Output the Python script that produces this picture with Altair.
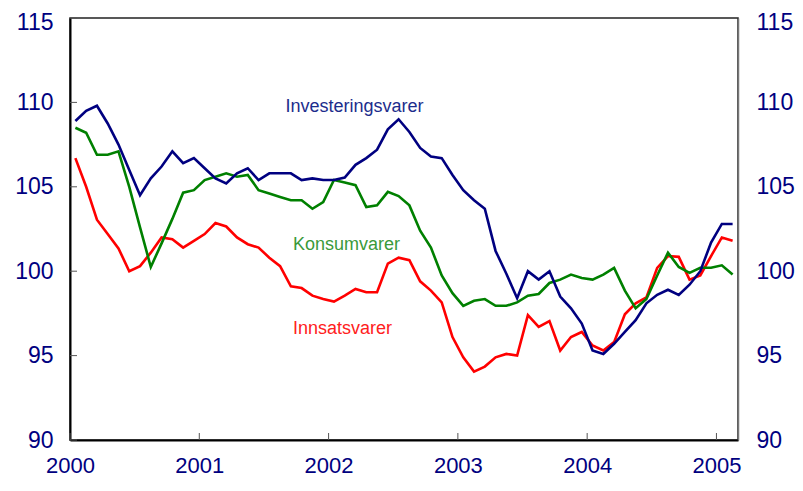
import altair as alt
import pandas as pd

# Monthly observations, Jan 2000 - Feb 2005
months = [f"{y}-{m:02d}" for y in range(2000, 2006) for m in range(1, 13)][:62]

investeringsvarer = [
    108.9, 109.5, 109.8, 108.75, 107.5, 106.0, 104.5, 105.5, 106.2, 107.1, 106.4, 106.7,
    106.1, 105.5, 105.2, 105.8, 106.1, 105.4, 105.8, 105.8, 105.8, 105.4, 105.5, 105.4,
    105.4, 105.55, 106.3, 106.7, 107.2, 108.4, 109.0, 108.25, 107.3, 106.8, 106.7, 105.7,
    104.8, 104.2, 103.7, 101.2, 99.85, 98.4, 100.0, 99.5, 100.0, 98.5, 97.8, 96.9,
    95.3, 95.1, 95.7, 96.4, 97.1, 98.1, 98.6, 98.9, 98.6, 99.2, 100.0, 101.7,
    102.8, 102.8,
]
konsumvarer = [
    108.5, 108.2, 106.9, 106.9, 107.1, 105.0, 102.6, 100.25, 101.65, 103.1, 104.65, 104.8,
    105.4, 105.6, 105.8, 105.6, 105.7, 104.8, 104.6, 104.4, 104.2, 104.2, 103.7, 104.1,
    105.4, 105.25, 105.1, 103.8, 103.9, 104.7, 104.45, 103.9, 102.4, 101.4, 99.75, 98.7,
    97.95, 98.25, 98.35, 97.95, 97.95, 98.15, 98.55, 98.65, 99.3, 99.5, 99.8, 99.6,
    99.5, 99.8, 100.2, 98.85, 97.8, 98.35, 99.75, 101.1, 100.25, 99.9, 100.2, 100.2,
    100.35, 99.8,
]
innsatsvarer = [
    106.7, 105.0, 103.05, 102.2, 101.35, 100.0, 100.3, 101.1, 102.0, 101.9, 101.4, 101.8,
    102.2, 102.85, 102.65, 102.0, 101.6, 101.4, 100.8, 100.3, 99.1, 99.0, 98.55, 98.35,
    98.2, 98.55, 98.95, 98.75, 98.75, 100.45, 100.8, 100.65, 99.4, 98.85, 98.15, 96.1,
    94.9, 94.05, 94.35, 94.9, 95.1, 95.0, 97.4, 96.7, 97.05, 95.3, 96.1, 96.4,
    95.6, 95.3, 95.8, 97.45, 98.1, 98.45, 100.2, 100.9, 100.85, 99.5, 99.75, 100.9,
    102.0, 101.8,
]

series_names = ["Innsatsvarer", "Konsumvarer", "Investeringsvarer"]
series_values = [innsatsvarer, konsumvarer, investeringsvarer]
series_colors = ["#ff0000", "#008000", "#000080"]

label_texts = ["Investeringsvarer", "Konsumvarer", "Innsatsvarer"]
label_month = [19.5, 20.2, 20.2]
label_value = [109.7, 101.55, 96.6]
label_colors = ["#1c2d8c", "#3a9a3a", "#ff2020"]

year_ticks = [2000, 2001, 2002, 2003, 2004, 2005]
y_ticks = [90, 95, 100, 105, 110, 115]

rows = []
for name, vals in zip(series_names, series_values):
    for i, (m, v) in enumerate(zip(months, vals)):
        rows.append({"series": name, "month": m, "t": i, "value": v})
df = pd.DataFrame(rows)

df_labels = pd.DataFrame({"label": label_texts, "t": label_month,
                          "value": label_value, "col": label_colors})
df_yt = pd.DataFrame({"value": y_ticks})
df_xt = pd.DataFrame({"t": [(y - 2000) * 12 - 0.5 for y in year_ticks]})

FONT = "Liberation Sans"
x_scale = alt.Scale(domain=[-0.5, 61.5], nice=False, zero=False)
y_scale = alt.Scale(domain=[90, 115], nice=False, zero=False)

top_label_offset = {"condition": {"test": "datum.value == 115", "value": 4}, "value": 0}

x_axis = alt.Axis(
    values=[(y - 2000) * 12 - 0.5 for y in year_ticks],
    labelExpr="'' + round((datum.value + 0.5) / 12 + 2000)",
    title=None, grid=False, ticks=False, tickSize=0,
    domainColor="#000000", domainWidth=2,
    labelFont=FONT, labelFontSize=22, labelColor="#000080",
    labelPadding=15, labelFlush=False, labelOverlap=False,
)
y_axis_left = alt.Axis(
    values=y_ticks, orient="left", title=None, grid=False, ticks=False, tickSize=0,
    domainColor="#000000", domainWidth=2,
    labelFont=FONT, labelFontSize=23, labelColor="#000080", labelPadding=17,
    labelFlush=False, labelOverlap=False, labelOffset=top_label_offset,
)
y_axis_right = alt.Axis(
    values=y_ticks, orient="right", title=None, grid=False, ticks=False, tickSize=0,
    domainColor="#777777", domainWidth=1.5,
    labelFont=FONT, labelFontSize=23, labelColor="#000080", labelPadding=18,
    labelFlush=False, labelOverlap=False, labelOffset=top_label_offset,
)

lines = alt.Chart(df).mark_line(strokeWidth=2.6).encode(
    x=alt.X("t:Q", scale=x_scale, axis=x_axis),
    y=alt.Y("value:Q", scale=y_scale, axis=y_axis_left),
    color=alt.Color("series:N", scale=alt.Scale(domain=series_names, range=series_colors),
                    legend=None),
    order=alt.Order("t:Q"),
)

labels = alt.Chart(df_labels).mark_text(
    align="left", baseline="middle", font=FONT, fontSize=18
).encode(
    x=alt.X("t:Q", scale=x_scale, axis=x_axis),
    y=alt.Y("value:Q", scale=y_scale, axis=None),
    text="label:N",
    color=alt.Color("col:N", scale=None),
)

y_tick_marks = alt.Chart(df_yt).mark_rule(color="#555555", strokeWidth=1).encode(
    y=alt.Y("value:Q", scale=y_scale, axis=y_axis_right),
    x=alt.value(0),
    x2=alt.value(7),
)

x_tick_marks = alt.Chart(df_xt).mark_rule(color="#555555", strokeWidth=1).encode(
    x=alt.X("t:Q", scale=x_scale, axis=x_axis),
    y=alt.value(415),
    y2=alt.value(422),
)

chart = alt.layer(lines, labels, y_tick_marks, x_tick_marks).resolve_scale(
    y="shared", x="shared"
).resolve_axis(y="independent").properties(
    width=668, height=422,
    padding={"left": 62, "top": 10, "right": 57, "bottom": 40},
    autosize=alt.AutoSizeParams(type="none"),
    background="white",
).configure_view(stroke="#222222", strokeWidth=1.5)

chart.save("out.html", embed_options={"renderer": "svg", "actions": False})
